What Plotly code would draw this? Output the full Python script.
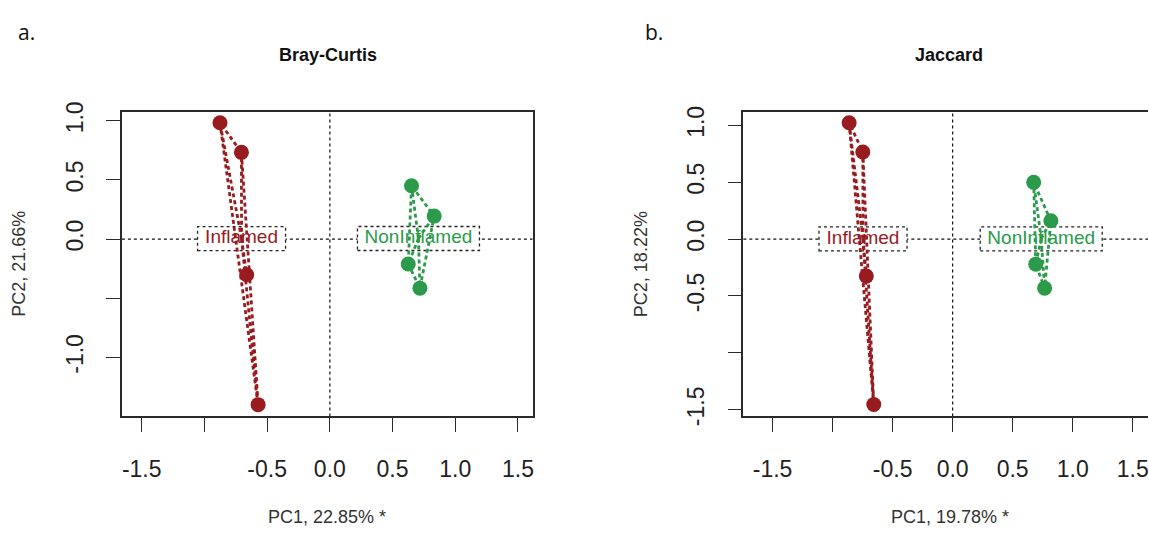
import plotly.graph_objects as go

# ---------------- data ----------------
groups = ["Inflamed", "NonInflamed"]

bc_inf_x = [-0.876, -0.705, -0.663, -0.572]
bc_inf_y = [0.983, 0.733, -0.302, -1.400]
bc_non_x = [0.651, 0.832, 0.625, 0.718]
bc_non_y = [0.451, 0.194, -0.211, -0.415]

ja_inf_x = [-0.862, -0.748, -0.719, -0.657]
ja_inf_y = [1.023, 0.766, -0.325, -1.454]
ja_non_x = [0.675, 0.818, 0.692, 0.766]
ja_non_y = [0.499, 0.161, -0.220, -0.431]

x_ticks = [-1.5, -1.0, -0.5, 0.0, 0.5, 1.0, 1.5]
x_ticktext = ["-1.5", "", "-0.5", "0.0", "0.5", "1.0", "1.5"]
bc_y_ticks = [-1.0, -0.5, 0.0, 0.5, 1.0]
bc_y_ticktext = ["-1.0", "", "0.0", "0.5", "1.0"]
ja_y_ticks = [-1.5, -1.0, -0.5, 0.0, 0.5, 1.0]
ja_y_ticktext = ["-1.5", "", "-0.5", "0.0", "0.5", "1.0"]

panel_titles = ["Bray-Curtis", "Jaccard"]
panel_letters = ["a.", "b."]
x_titles = ["PC1, 22.85% *", "PC1, 19.78% *"]
y_titles = ["PC2, 21.66%", "PC2, 18.22%"]

# ---------------- style ----------------
RED = "#981b1f"
GREEN = "#2b9a4b"
colors = [RED, GREEN]
W, H = 1149, 537
FONT = "Liberation Sans, Arial, sans-serif"
AX = "#2a2a2a"

# plot areas in pixels (left, right, top, bottom)
areas = [(122, 533, 105, 422), (744, 1149, 105, 422)]
xranges = [[-1.658, 1.616], [-1.743, 1.627]]
yranges = [[-1.500, 1.075], [-1.559, 1.118]]
label_box_w = {"Inflamed": 88, "NonInflamed": 122}


def hull(px, py):
    pts = sorted(zip(px, py))
    def cross(o, a, b):
        return (a[0] - o[0]) * (b[1] - o[1]) - (a[1] - o[1]) * (b[0] - o[0])
    lower, upper = [], []
    for p in pts:
        while len(lower) >= 2 and cross(lower[-2], lower[-1], p) <= 0:
            lower.pop()
        lower.append(p)
    for p in reversed(pts):
        while len(upper) >= 2 and cross(upper[-2], upper[-1], p) <= 0:
            upper.pop()
        upper.append(p)
    h = lower[:-1] + upper[:-1]
    h.append(h[0])
    return [p[0] for p in h], [p[1] for p in h]


fig = go.Figure()
panels = [
    [(bc_inf_x, bc_inf_y), (bc_non_x, bc_non_y)],
    [(ja_inf_x, ja_inf_y), (ja_non_x, ja_non_y)],
]
shapes = []
annotations = []

for i, panel in enumerate(panels):
    xa = "x" if i == 0 else "x2"
    ya = "y" if i == 0 else "y2"
    # dotted zero lines
    shapes.append(dict(type="line", xref=xa + " domain", yref=ya, x0=0, x1=1, y0=0, y1=0,
                       line=dict(color="#111", width=1.2, dash="dot"), layer="below"))
    shapes.append(dict(type="line", xref=xa, yref=ya + " domain", x0=0, x1=0, y0=0, y1=1,
                       line=dict(color="#111", width=1.2, dash="dot"), layer="below"))
    for g, (px, py) in enumerate(panel):
        cx = sum(px) / len(px)
        cy = sum(py) / len(py)
        bw = label_box_w[groups[g]]
        shapes.append(dict(type="rect", xref=xa, yref=ya,
                           xsizemode="pixel", ysizemode="pixel",
                           xanchor=cx, yanchor=cy,
                           x0=-bw / 2, x1=bw / 2, y0=-12, y1=12,
                           fillcolor="white", line=dict(color="#222", width=1.3, dash="dot"),
                           layer="below"))
        # label text
        fig.add_trace(go.Scatter(x=[cx], y=[cy], mode="text", text=[groups[g]],
                                 textfont=dict(family=FONT, size=19, color=colors[g]),
                                 textposition="middle center", xaxis=xa, yaxis=ya,
                                 showlegend=False, hoverinfo="skip"))
        # hull
        hx, hy = hull(px, py)
        fig.add_trace(go.Scatter(x=hx, y=hy, mode="lines", xaxis=xa, yaxis=ya,
                                 line=dict(color=colors[g], width=2.8, dash="4px,3px"),
                                 showlegend=False, hoverinfo="skip"))
        # spider
        sx, sy = [], []
        for a, b in zip(px, py):
            sx += [cx, a, None]
            sy += [cy, b, None]
        fig.add_trace(go.Scatter(x=sx, y=sy, mode="lines", xaxis=xa, yaxis=ya,
                                 line=dict(color=colors[g], width=2.8, dash="4px,3px"),
                                 showlegend=False, hoverinfo="skip"))
        # points
        fig.add_trace(go.Scatter(x=px, y=py, mode="markers", xaxis=xa, yaxis=ya,
                                 marker=dict(color=colors[g], size=15, line=dict(width=0)),
                                 showlegend=False, hoverinfo="skip"))

    title_x = [328, 950][i]
    annotations.append(dict(text="<b>%s</b>" % panel_titles[i], x=title_x / W, y=1 - 46 / H,
                            xref="paper", yref="paper", showarrow=False,
                            font=dict(family=FONT, size=18, color="#111"),
                            xanchor="center", yanchor="middle"))
    letter_x = [27, 655][i]
    annotations.append(dict(text=panel_letters[i], x=letter_x / W, y=1 - 22 / H,
                            xref="paper", yref="paper", showarrow=False,
                            font=dict(family="Open Sans, sans-serif", size=21, color="#111"),
                            xanchor="center", yanchor="middle"))
    xt_x = [327, 951][i]
    annotations.append(dict(text=x_titles[i], x=xt_x / W, y=1 - 527 / H,
                            xref="paper", yref="paper", showarrow=False,
                            font=dict(family=FONT, size=18, color="#333"),
                            xanchor="center", yanchor="middle"))
    yt_x = [19, 641][i]
    annotations.append(dict(text=y_titles[i], x=yt_x / W, y=1 - 263 / H, textangle=-90,
                            xref="paper", yref="paper", showarrow=False,
                            font=dict(family=FONT, size=18, color="#333"),
                            xanchor="center", yanchor="middle"))

axis_common = dict(showgrid=False, zeroline=False, showline=True, linecolor=AX, linewidth=1.6,
                   ticks="outside", ticklen=14, tickwidth=1.4, tickcolor=AX,
                   tickfont=dict(family=FONT, size=23, color="#222"), fixedrange=True)

layout_axes = {}
for i in range(2):
    l, r, t, b = areas[i]
    xkey = "xaxis" if i == 0 else "xaxis2"
    ykey = "yaxis" if i == 0 else "yaxis2"
    ax_x = dict(axis_common)
    ax_x.update(domain=[l / W, r / W], range=xranges[i], tickvals=x_ticks, ticktext=x_ticktext,
                mirror=True, anchor="y" if i == 0 else "y2", ticklabelstandoff=17)
    ax_y = dict(axis_common)
    ax_y.update(domain=[1 - b / H, 1 - t / H], range=yranges[i],
                tickvals=bc_y_ticks if i == 0 else ja_y_ticks,
                ticktext=bc_y_ticktext if i == 0 else ja_y_ticktext,
                tickangle=-90, mirror=(i == 0), anchor="x" if i == 0 else "x2",
                ticklabelstandoff=14)
    layout_axes[xkey] = ax_x
    layout_axes[ykey] = ax_y

fig.update_layout(width=W, height=H, margin=dict(l=0, r=0, t=0, b=0),
                  paper_bgcolor="white", plot_bgcolor="white", showlegend=False,
                  shapes=shapes, annotations=annotations, hovermode=False, **layout_axes)

fig.write_html("out.html", config={"displayModeBar": False})
